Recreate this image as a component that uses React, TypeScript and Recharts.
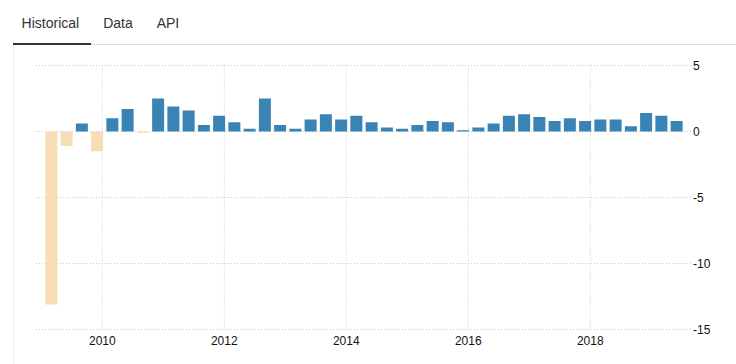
import React from 'react';
import { BarChart, Bar, XAxis, YAxis, CartesianGrid, Cell } from 'recharts';

const quarters = [
  '2009Q1', '2009Q2', '2009Q3', '2009Q4',
  '2010Q1', '2010Q2', '2010Q3', '2010Q4',
  '2011Q1', '2011Q2', '2011Q3', '2011Q4',
  '2012Q1', '2012Q2', '2012Q3', '2012Q4',
  '2013Q1', '2013Q2', '2013Q3', '2013Q4',
  '2014Q1', '2014Q2', '2014Q3', '2014Q4',
  '2015Q1', '2015Q2', '2015Q3', '2015Q4',
  '2016Q1', '2016Q2', '2016Q3', '2016Q4',
  '2017Q1', '2017Q2', '2017Q3', '2017Q4',
  '2018Q1', '2018Q2', '2018Q3', '2018Q4',
  '2019Q1', '2019Q2',
];

const growth = [
  -13.1, -1.1, 0.6, -1.5,
  1.0, 1.7, -0.1, 2.5,
  1.9, 1.6, 0.5, 1.2,
  0.7, 0.2, 2.5, 0.5,
  0.2, 0.9, 1.3, 0.9,
  1.2, 0.7, 0.3, 0.2,
  0.5, 0.8, 0.7, 0.1,
  0.3, 0.6, 1.2, 1.3,
  1.1, 0.8, 1.0, 0.8,
  0.9, 0.9, 0.4, 1.4,
  1.2, 0.8,
];

const xTicks = [2010, 2012, 2014, 2016, 2018];
const yTicks = [-15, -10, -5, 0, 5];
const tabs = ['Historical', 'Data', 'API'];

// position of the bar within its quarter (in years)
const IN_QUARTER = 0.159;
const X_DOMAIN: [number, number] = [2008.913, 2019.651];

const data = quarters.map((q, i) => {
  const year = parseInt(q.slice(0, 4), 10);
  const qn = parseInt(q.slice(5), 10);
  return { q, x: year + (qn - 1) * 0.25 + IN_QUARTER, v: growth[i] };
});

const FONT = '"Liberation Sans", Arial, sans-serif';
const BLUE = '#3983b5';
const ORANGE = '#f8dcb4';

export default function App() {
  const tabX = [21.6, 103.2, 156.7];
  const verticalGen = (props: any) => {
    const ax = props && props.xAxis;
    if (ax && typeof ax.scale === 'function') {
      return xTicks.map((t) => ax.scale(t));
    }
    const off = props.offset;
    return xTicks.map(
      (t) => off.left + ((t - X_DOMAIN[0]) / (X_DOMAIN[1] - X_DOMAIN[0])) * off.width
    );
  };
  return (
    <div style={{ position: 'absolute', left: 0, top: 0, width: 736, height: 364, background: '#fff', fontFamily: FONT }}>
      <svg width={736} height={364} style={{ position: 'absolute', left: 0, top: 0 }}>
        <rect x={13} y={45} width={1} height={319} fill="#eeeeee" />
        <rect x={13} y={44} width={723} height={1} fill="#dddddd" />
        <rect x={13} y={43} width={78} height={2} fill="#333333" />
        {tabs.map((t, i) => (
          <text key={t} x={tabX[i]} y={28} fontSize={14} fill="#333" fontFamily={FONT}>
            {t}
          </text>
        ))}
      </svg>
      <div style={{ position: 'absolute', left: 0, top: 0 }}>
        <BarChart
          width={736}
          height={364}
          data={data}
          margin={{ top: 65.5, right: 0, bottom: 0, left: 36 }}
        >
          <CartesianGrid
            stroke="#c8c8c8"
            strokeDasharray="1 2"
            verticalCoordinatesGenerator={verticalGen}
          />
          <XAxis
            type="number"
            dataKey="x"
            domain={X_DOMAIN}
            allowDataOverflow
            ticks={xTicks}
            axisLine={false}
            tickLine={false}
            tickSize={0}
            tickMargin={7}
            height={34.5}
            interval={0}
            tick={{ fill: '#111', fontSize: 12, fontFamily: FONT }}
          />
          <YAxis
            orientation="right"
            domain={[-15, 5]}
            ticks={yTicks}
            allowDataOverflow
            axisLine={false}
            tickLine={false}
            tickSize={0}
            tickMargin={2}
            width={45}
            interval={0}
            tick={{ fill: '#111', fontSize: 12, fontFamily: FONT, textAnchor: 'start' }}
          />
          <Bar dataKey="v" barSize={12} isAnimationActive={false}>
            {data.map((d) => (
              <Cell key={d.q} fill={d.v < 0 ? ORANGE : BLUE} />
            ))}
          </Bar>
        </BarChart>
      </div>
    </div>
  );
}
